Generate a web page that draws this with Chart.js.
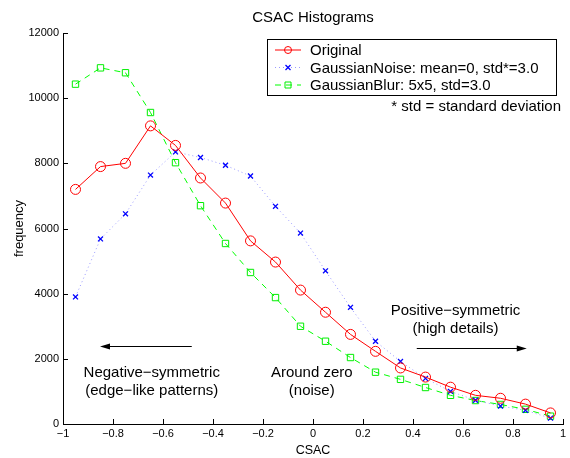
<!DOCTYPE html>
<html>
<head>
<meta charset="utf-8">
<script src="https://cdn.jsdelivr.net/npm/chart.js@4.4.0/dist/chart.umd.min.js"></script>
<style>
  html, body { margin: 0; padding: 0; background: #fff; }
  #wrap { width: 570px; height: 458px; }
</style>
</head>
<body>
<div id="wrap"><canvas id="HistChart" width="570" height="458"></canvas></div>
<script>
// CSAC histograms - three variants

const csac = [-0.95, -0.85, -0.75, -0.65, -0.55, -0.45, -0.35, -0.25, -0.15, -0.05,
    0.05, 0.15, 0.25, 0.35, 0.45, 0.55, 0.65, 0.75, 0.85, 0.95];

const original = [7200, 7900, 8000, 9150, 8550, 7550, 6780, 5620, 4970, 4110,
    3430, 2750, 2230, 1720, 1440, 1130, 880, 790, 610, 340];

const gaussNoise = [3900, 5680, 6450, 7640, 8350, 8180, 7940, 7610, 6680, 5860,
    4700, 3580, 2540, 1920, 1400, 1000, 730, 550, 420, 180];

const gaussBlur = [10430, 10930, 10780, 9560, 8020, 6700, 5540, 4650, 3880, 3000,
    2540, 2040, 1590, 1370, 1120, 880, 720, 600, 450, 240];

const xTicks = [-1, -0.8, -0.6, -0.4, -0.2, 0, 0.2, 0.4, 0.6, 0.8, 1];
const yTicks = [0, 2000, 4000, 6000, 8000, 10000, 12000];

const seriesNames = ['Original', 'GaussianNoise: mean=0, std*=3.0', 'GaussianBlur: 5x5, std=3.0'];

const FONT = '"Liberation Sans", Arial, Helvetica, sans-serif';

function pts(vals) {
    return csac.map((x, i) => ({ x: x, y: vals[i] }));
}

// title over plot area, inward ticks, legend box, arrows + notes
const extras = {
    id: 'extras',
    afterDraw(chart) {
        const ctx = chart.ctx;
        const xs = chart.scales.x, ys = chart.scales.y;
        const area = chart.chartArea;
        ctx.save();

        ctx.fillStyle = '#000';
        ctx.font = '15px ' + FONT;
        ctx.textAlign = 'center';
        ctx.textBaseline = 'middle';
        ctx.fillText('CSAC Histograms', (area.left + area.right) / 2, 18);

        ctx.strokeStyle = '#000';
        ctx.lineWidth = 1;
        // ticks pointing in
        xTicks.forEach(t => {
            const px = Math.round(xs.getPixelForValue(t)) + 0.5;
            ctx.beginPath();
            ctx.moveTo(px, area.bottom);
            ctx.lineTo(px, area.bottom - 5);
            ctx.stroke();
        });
        yTicks.forEach(t => {
            const py = Math.round(ys.getPixelForValue(t)) + 0.5;
            ctx.beginPath();
            ctx.moveTo(area.left, py);
            ctx.lineTo(area.left + 5, py);
            ctx.stroke();
        });

        // legend
        const lx = 267, ly = 39, lw = 289, lh = 56;
        ctx.fillStyle = '#fff';
        ctx.fillRect(lx, ly, lw, lh);
        ctx.lineWidth = 1;
        ctx.strokeRect(lx + 0.5, ly + 0.5, lw, lh);
        const rowsY = [50, 67.5, 85];
        chart.data.datasets.forEach((ds, i) => {
            const y = rowsY[i];
            ctx.save();
            ctx.strokeStyle = ds.borderColor;
            ctx.lineWidth = 1;
            ctx.setLineDash(ds.borderDash || []);
            ctx.beginPath();
            ctx.moveTo(275, y);
            ctx.lineTo(301, y);
            ctx.stroke();
            ctx.setLineDash([]);
            ctx.strokeStyle = ds.pointBorderColor;
            ctx.lineWidth = ds.pointBorderWidth;
            ctx.beginPath();
            if (ds.pointStyle === 'circle') {
                ctx.arc(288, y, 3.5, 0, Math.PI * 2);
            } else if (ds.pointStyle === 'rect') {
                ctx.rect(285, y - 3, 6, 6);
            } else {
                ctx.moveTo(285.5, y - 2.5); ctx.lineTo(290.5, y + 2.5);
                ctx.moveTo(290.5, y - 2.5); ctx.lineTo(285.5, y + 2.5);
            }
            ctx.stroke();
            ctx.restore();
            ctx.fillStyle = '#000';
            ctx.font = '15px ' + FONT;
            ctx.textBaseline = 'middle';
            ctx.textAlign = 'left';
            ctx.fillText(seriesNames[i], 310, y + 1);
        });
        ctx.font = '15px ' + FONT;
        ctx.textAlign = 'right';
        ctx.fillText('* std = standard deviation', 561, 107);

        // arrows
        function arrow(x0, x1, yv) {
            const p0 = xs.getPixelForValue(x0), p1 = xs.getPixelForValue(x1);
            const py = Math.round(ys.getPixelForValue(yv)) + 0.5;
            const dir = p1 > p0 ? 1 : -1;
            ctx.strokeStyle = '#000';
            ctx.fillStyle = '#000';
            ctx.lineWidth = 1;
            ctx.beginPath();
            ctx.moveTo(p0, py);
            ctx.lineTo(p1 - dir * 8, py);
            ctx.stroke();
            ctx.beginPath();
            ctx.moveTo(p1, py);
            ctx.lineTo(p1 - dir * 10, py - 3);
            ctx.lineTo(p1 - dir * 10, py + 3);
            ctx.closePath();
            ctx.fill();
        }
        arrow(-0.485, -0.852, 2390);
        arrow(0.415, 0.855, 2330);

        ctx.font = '15px ' + FONT;
        ctx.textAlign = 'center';
        ctx.textBaseline = 'middle';
        ctx.fillStyle = '#000';
        function note(xv, py, lines) {
            const px = xs.getPixelForValue(xv);
            lines.forEach((s, k) => ctx.fillText(s, px, py + k * 17.5));
        }
        note(-0.645, 373, ['Negative\u2212symmetric', '(edge\u2212like patterns)']);
        note(-0.005, 373, ['Around zero', '(noise)']);
        note(0.57, 311, ['Positive\u2212symmetric', '(high details)']);
        ctx.restore();
    }
};

const config = {
    type: 'line',
    data: {
        datasets: [{
            label: seriesNames[0],
            data: pts(original),
            borderColor: '#ff0000',
            borderWidth: 1,
            pointStyle: 'circle',
            pointRadius: 5,
            pointBorderColor: '#ff0000',
            pointBackgroundColor: 'rgba(0,0,0,0)',
            pointBorderWidth: 1,
            tension: 0
        }, {
            label: seriesNames[1],
            data: pts(gaussNoise),
            borderColor: '#9999ff',
            borderWidth: 1,
            borderDash: [1, 3],
            pointStyle: 'crossRot',
            pointRadius: 3.5,
            pointBorderColor: '#0000ff',
            pointBackgroundColor: 'rgba(0,0,0,0)',
            pointBorderWidth: 1.3,
            tension: 0
        }, {
            label: seriesNames[2],
            data: pts(gaussBlur),
            borderColor: '#00ff00',
            borderWidth: 1,
            borderDash: [6, 5],
            pointStyle: 'rect',
            pointRadius: 4.5,
            pointBorderColor: '#00ee00',
            pointBackgroundColor: 'rgba(0,0,0,0)',
            pointBorderWidth: 1,
            tension: 0
        }]
    },
    options: {
        responsive: false,
        animation: false,
        events: [],
        layout: { padding: { left: 12, right: 7, top: 33, bottom: 0 } },
        plugins: {
            legend: { display: false },
            tooltip: { enabled: false },
            title: { display: false }
        },
        scales: {
            x: {
                type: 'linear',
                min: -1,
                max: 1,
                afterBuildTicks: s => { s.ticks = xTicks.map(v => ({ value: v })); },
                afterFit: s => { s.height = 34; },
                grid: { display: false, drawTicks: false },
                border: { display: true, color: '#000', width: 1 },
                ticks: {
                    color: '#000',
                    padding: 3,
                    font: { family: FONT, size: 11 },
                    callback: v => String(v).replace('-', '\u2212')
                },
                title: {
                    display: true, text: 'CSAC', color: '#000',
                    font: { family: FONT, size: 12.5 }, padding: { top: 0, bottom: 0 }
                }
            },
            y: {
                min: 0,
                max: 12000,
                afterBuildTicks: s => { s.ticks = yTicks.map(v => ({ value: v })); },
                afterFit: s => { s.width = 51; },
                grid: { display: false, drawTicks: false },
                border: { display: true, color: '#000', width: 1 },
                ticks: {
                    color: '#000',
                    padding: 4,
                    font: { family: FONT, size: 11 },
                    callback: v => String(v)
                },
                title: {
                    display: true, text: 'frequency', color: '#000',
                    font: { family: FONT, size: 13 }, padding: { top: 0, bottom: 0 }
                }
            }
        }
    },
    plugins: [extras]
};

new Chart(document.getElementById('HistChart'), config);
</script>
</body>
</html>
